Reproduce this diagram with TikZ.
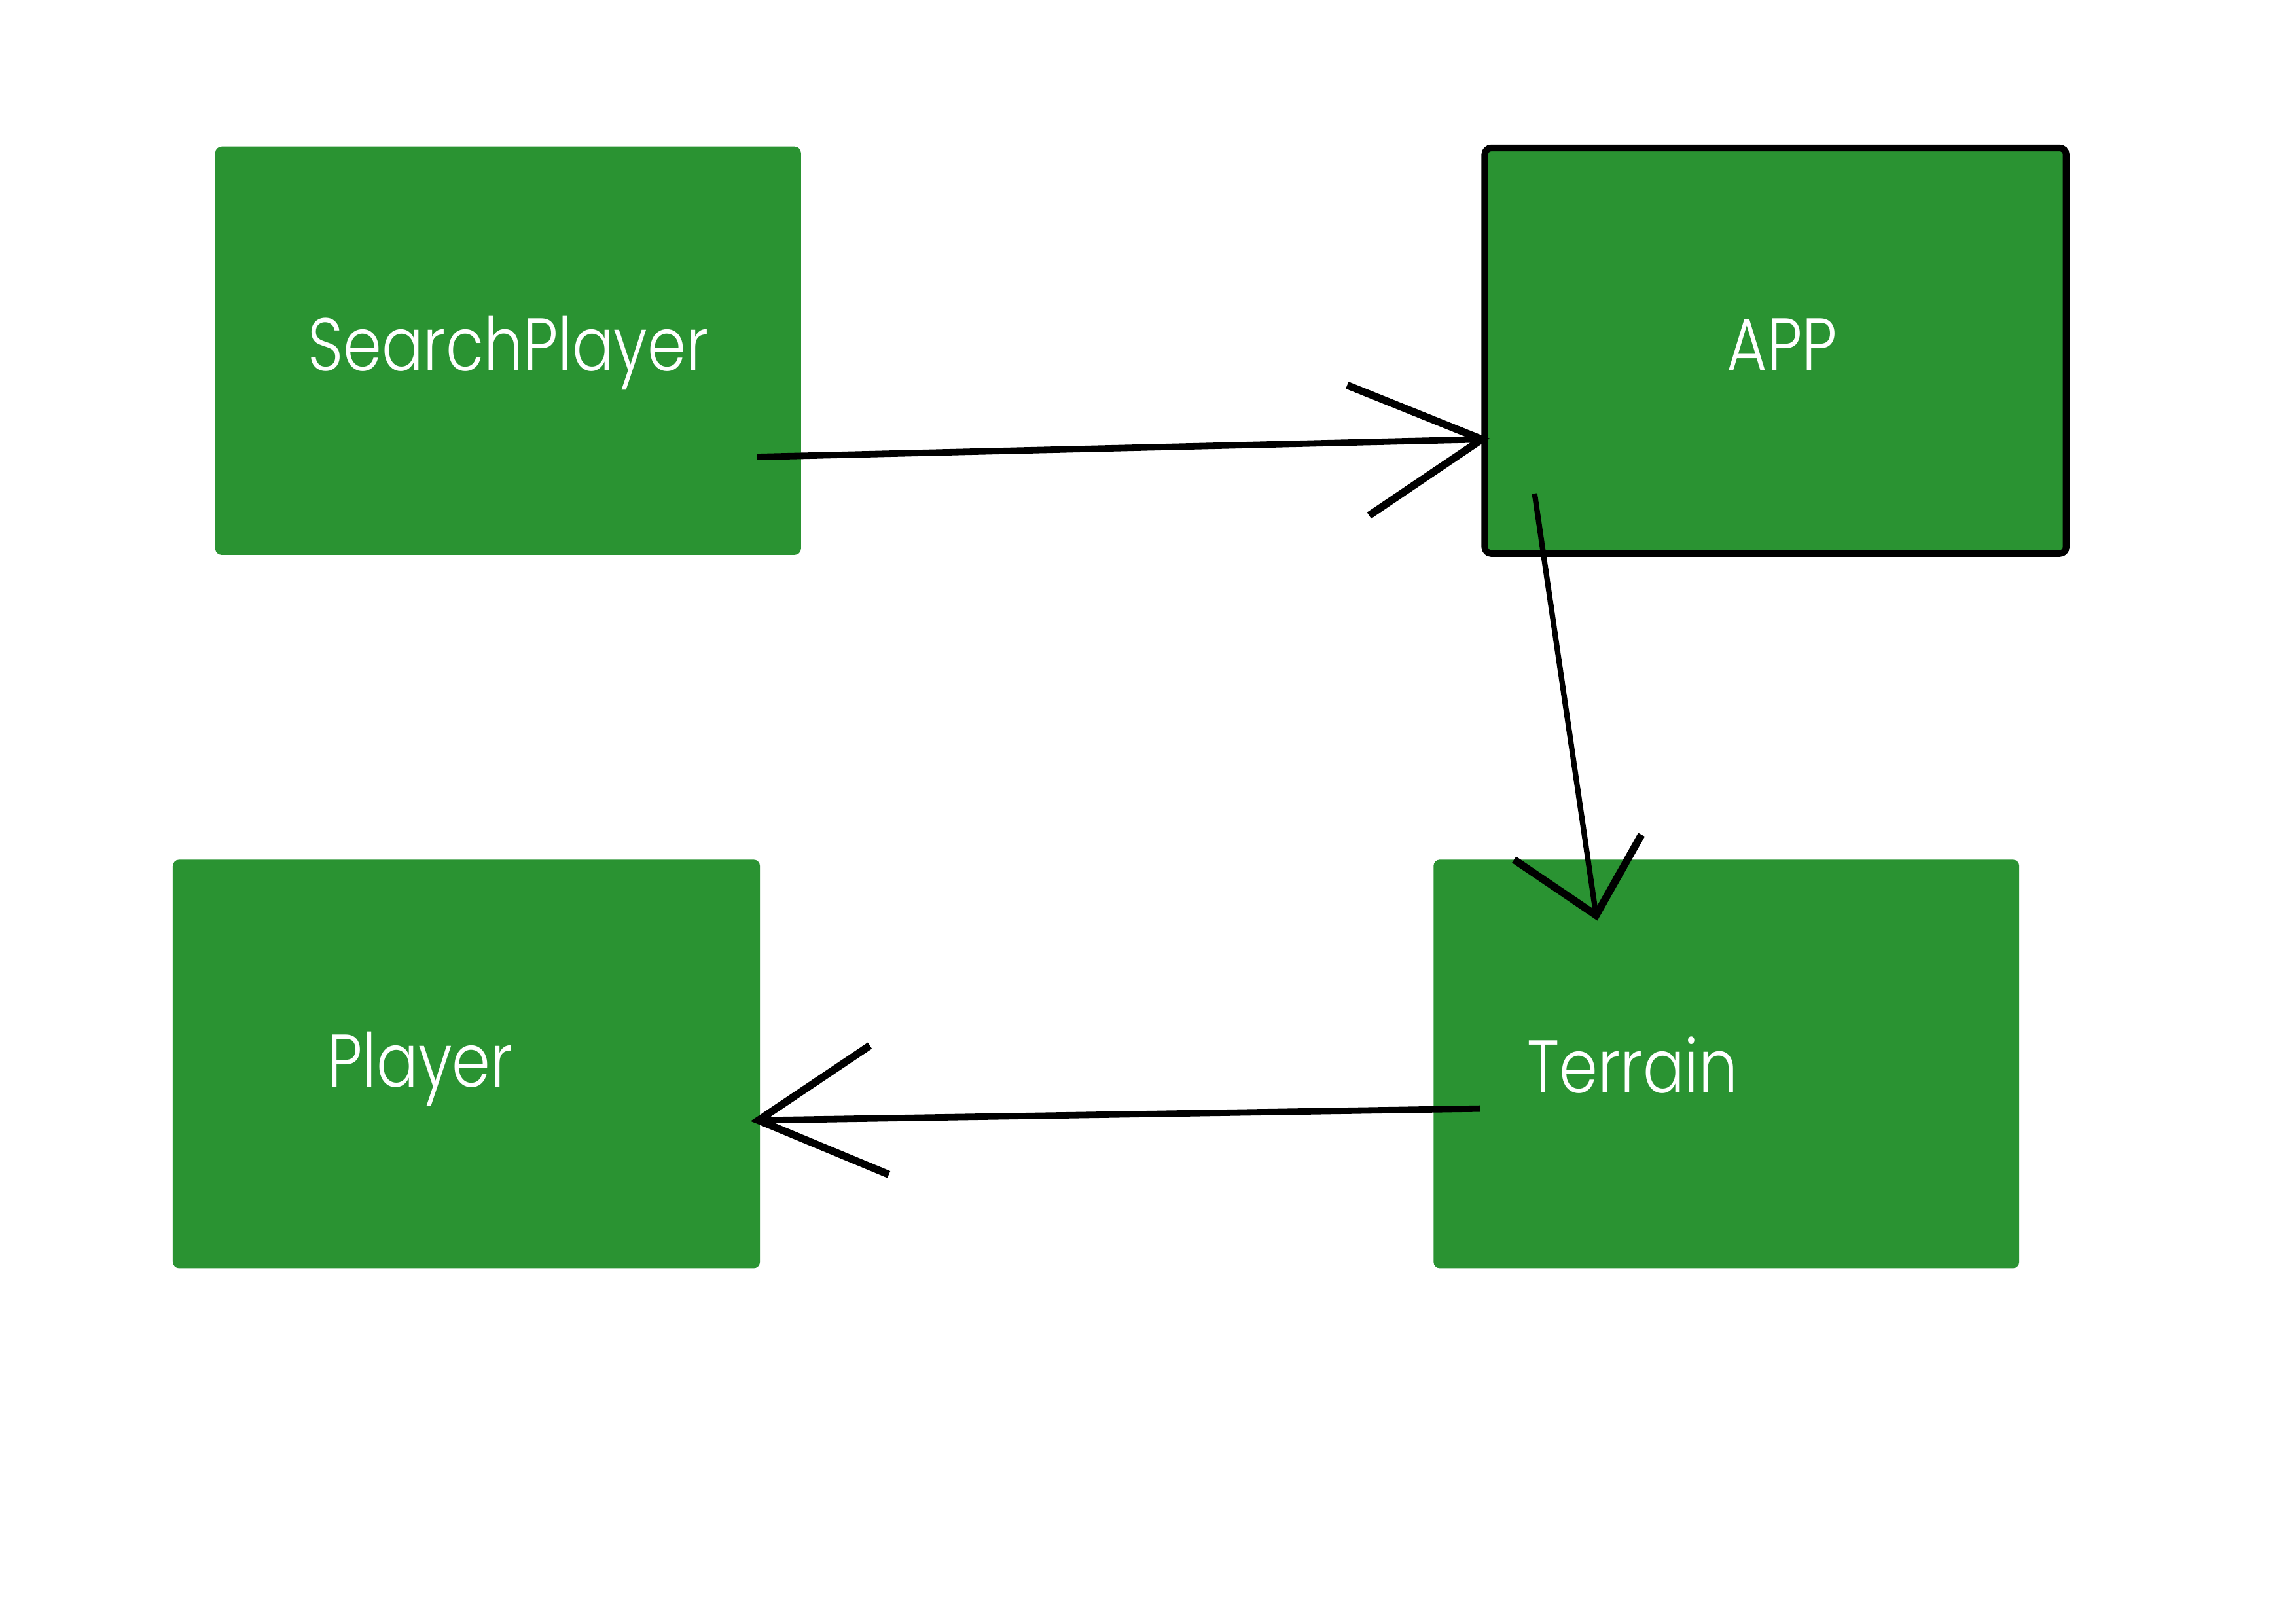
\documentclass[tikz,border=0pt]{standalone}
\usepackage{fontspec}
\newfontfamily\lbl{Poppins Light}[FakeStretch=0.83]
\definecolor{boxgreen}{RGB}{42,147,50}
\begin{document}
\begin{tikzpicture}[x=0.02cm,y=-0.02cm,
  gbox/.style={fill=boxgreen,rounded corners=2.5pt},
  lbltext/.style={text=white,font=\lbl\fontsize{29}{31}\selectfont,inner sep=0pt,anchor=base},
  conn/.style={line width=2.5pt,black},
  headln/.style={line width=2.9pt,black}]
\useasboundingbox (0,0) rectangle (1568,1108.5);
% boxes
\path[gbox] (147,100) rectangle (547,379);
\path[gbox] (118,587) rectangle (519,866);
\path[gbox] (979,587) rectangle (1379,866);
\draw[gbox,draw=black,line width=2.6pt] (1014,101) rectangle (1411,378);
\node[lbltext] (sp) at (347,253) {SearchPlayer};
\node[lbltext] (app) at (1217,253) {APP};
\node[lbltext] (pl) at (287,742) {Player};
\node[lbltext] (te) at (1115,746) {Terrain};
% connector endpoints
\coordinate (a1s) at (517,312);
\coordinate (a1e) at (1012,300);
\coordinate (a1h1) at (920,263);
\coordinate (a1h2) at (935,352);
\coordinate (a2s) at (1048,337);
\coordinate (a2e) at (1090,625);
\coordinate (a2h1) at (1034,587);
\coordinate (a2h2) at (1121,570);
\coordinate (a3s) at (1011,757);
\coordinate (a3e) at (518,765);
\coordinate (a3h1) at (594,714);
\coordinate (a3h2) at (607,802);
\draw[conn] (a1s) -- (a1e);
\draw[headln] (a1h1) -- (a1e) -- (a1h2);
\draw[conn,line width=2.1pt] (a2s) -- (a2e);
\draw[headln] (a2h1) -- (a2e) -- (a2h2);
\draw[conn] (a3s) -- (a3e);
\draw[headln] (a3h1) -- (a3e) -- (a3h2);
\end{tikzpicture}
\end{document}
